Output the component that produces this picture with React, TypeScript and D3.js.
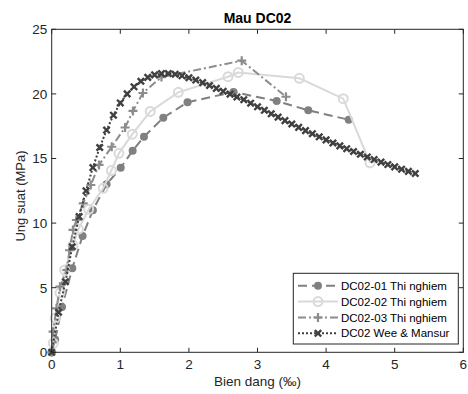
import React from "react";
import * as d3 from "d3";

const xTicks = [0, 1, 2, 3, 4, 5, 6];
const yTicks = [0, 5, 10, 15, 20, 25];

const dc01X = [0, 0.05, 0.15, 0.3, 0.45, 0.6, 0.8, 1.006, 1.18, 1.345, 1.627, 1.98, 2.65, 3.28, 3.74, 4.33];
const dc01Y = [0, 1.0, 3.5, 6.5, 9.0, 11.0, 13.0, 14.29, 15.6, 16.69, 18.16, 19.35, 20.15, 19.45, 18.73, 18.0];

const dc02X = [0.023, 0.05, 0.12, 0.19, 0.31, 0.39, 0.54, 0.75, 0.87, 0.98, 1.175, 1.437, 1.845, 2.57, 2.72, 3.61, 4.25, 4.64];
const dc02Y = [0.7, 2.65, 4.6, 6.37, 8.3, 9.54, 11.07, 12.69, 14.07, 15.4, 16.88, 18.64, 20.12, 21.33, 21.66, 21.21, 19.63, 14.67];

const dc03X = [0, 0.02, 0.07, 0.12, 0.22, 0.26, 0.31, 0.36, 0.46, 0.57, 0.69, 0.875, 1.07, 1.185, 1.33, 1.6, 2.77, 3.415];
const dc03Y = [0, 1.6, 3.4, 5.08, 6.37, 7.9, 9.47, 10.24, 11.53, 12.95, 14.5, 15.91, 17.4, 18.68, 20.07, 21.3, 22.57, 19.78];

const weeX = [0, 0.1, 0.2, 0.3, 0.4, 0.5, 0.6, 0.7, 0.8, 0.9, 1.0, 1.1, 1.2, 1.3, 1.4, 1.5, 1.6, 1.7, 1.8, 1.9, 2.0, 2.1, 2.2, 2.3, 2.4, 2.5, 2.6, 2.7, 2.8, 2.9, 3.0, 3.1, 3.2, 3.3, 3.4, 3.5, 3.6, 3.7, 3.8, 3.9, 4.0, 4.1, 4.2, 4.3, 4.4, 4.5, 4.6, 4.7, 4.8, 4.9, 5.0, 5.1, 5.2, 5.3];
const weeY = [0, 3.1, 5.46, 8.17, 10.5, 12.5, 14.3, 15.85, 17.2, 18.35, 19.3, 20.0, 20.55, 20.98, 21.28, 21.47, 21.57, 21.58, 21.52, 21.4, 21.25, 21.07, 20.87, 20.65, 20.43, 20.2, 19.98, 19.76, 19.55, 19.28, 19.0, 18.73, 18.46, 18.2, 17.93, 17.67, 17.41, 17.16, 16.92, 16.68, 16.44, 16.2, 15.98, 15.76, 15.54, 15.33, 15.12, 14.92, 14.72, 14.53, 14.35, 14.17, 14.0, 13.84];

const legendLabels = ["DC02-01 Thi nghiem", "DC02-02 Thi nghiem", "DC02-03 Thi nghiem", "DC02 Wee & Mansur"];

const W = 468, H = 394;
const L = 51.7, R = 463.3, T = 29.3, B = 352.3;
const font = "Liberation Sans, Arial, sans-serif";

type Style = { color: string; dash: string; marker: string; width: number };
const styles: Style[] = [
  { color: "#808080", dash: "9,5", marker: "dot", width: 2 },
  { color: "#d9d9d9", dash: "", marker: "circle", width: 2 },
  { color: "#8c8c8c", dash: "8,3,2,3", marker: "plus", width: 2 },
  { color: "#404040", dash: "2,2", marker: "x", width: 2 },
];

function Marker({ kind, x, y, color }: { kind: string; x: number; y: number; color: string }) {
  if (kind === "dot") return <circle cx={x} cy={y} r={4} fill={color} />;
  if (kind === "circle") return <circle cx={x} cy={y} r={4.5} fill="none" stroke={color} strokeWidth={2} />;
  if (kind === "plus") {
    const s = 4.5;
    return <path d={`M${x - s},${y}H${x + s}M${x},${y - s}V${y + s}`} stroke={color} strokeWidth={2.2} />;
  }
  const s = 3.2;
  return <path d={`M${x - s},${y - s}L${x + s},${y + s}M${x - s},${y + s}L${x + s},${y - s}`} stroke={color} strokeWidth={2.4} />;
}

export default function App() {
  const x = d3.scaleLinear().domain([0, 6]).range([L, R]);
  const y = d3.scaleLinear().domain([0, 25]).range([B, T]);
  const series = [
    [dc01X, dc01Y],
    [dc02X, dc02Y],
    [dc03X, dc03Y],
    [weeX, weeY],
  ].map(([xs, ys]) => xs.map((v, i) => [v, ys[i]] as [number, number]));
  const line = d3.line<[number, number]>().x((d) => x(d[0])).y((d) => y(d[1]));

  const legX = 293.3, legY = 273.3, legW = 165, legH = 70.7;
  const rowY = [285.7, 301.6, 317.5, 333.3];

  return (
    <svg width={W} height={H} style={{ position: "absolute", left: 0, top: 0, background: "#fff" }} fontFamily={font}>
      <rect x={0} y={0} width={W} height={H} fill="#fff" />
      {series.map((pts, si) => (
        <g key={si}>
          <path d={line(pts) || ""} fill="none" stroke={styles[si].color} strokeWidth={styles[si].width} strokeDasharray={styles[si].dash} />
          {pts.map((p, i) => (
            <Marker key={i} kind={styles[si].marker} x={x(p[0])} y={y(p[1])} color={styles[si].color} />
          ))}
        </g>
      ))}
      <rect x={L} y={T} width={R - L} height={B - T} fill="none" stroke="#262626" strokeWidth={1} />
      {xTicks.map((t) => (
        <g key={"x" + t}>
          <line x1={x(t)} x2={x(t)} y1={B} y2={B - 4.5} stroke="#262626" />
          <line x1={x(t)} x2={x(t)} y1={T} y2={T + 4.5} stroke="#262626" />
          <text x={x(t)} y={B + 17} fontSize={13.5} textAnchor="middle" fill="#262626">{t}</text>
        </g>
      ))}
      {yTicks.map((t) => (
        <g key={"y" + t}>
          <line x1={L} x2={L + 4.5} y1={y(t)} y2={y(t)} stroke="#262626" />
          <line x1={R} x2={R - 4.5} y1={y(t)} y2={y(t)} stroke="#262626" />
          <text x={L - 4.5} y={y(t) + 4.8} fontSize={13.5} textAnchor="end" fill="#262626">{t}</text>
        </g>
      ))}
      <text x={(L + R) / 2} y={22.7} fontSize={14} fontWeight="bold" textAnchor="middle" fill="#000">Mau DC02</text>
      <text x={(L + R) / 2} y={386} fontSize={13.5} textAnchor="middle" fill="#262626">Bien dang (‰)</text>
      <text transform={`translate(25,196) rotate(-90)`} fontSize={13} textAnchor="middle" fill="#262626">Ung suat (MPa)</text>
      <rect x={legX} y={legY} width={legW} height={legH} fill="#fff" stroke="#262626" strokeWidth={1} />
      {legendLabels.map((lab, i) => (
        <g key={lab}>
          <line x1={298} x2={338} y1={rowY[i]} y2={rowY[i]} stroke={styles[i].color} strokeWidth={styles[i].width} strokeDasharray={styles[i].dash} />
          <Marker kind={styles[i].marker} x={318} y={rowY[i]} color={styles[i].color} />
          <text x={341} y={rowY[i] + 4} fontSize={11.5} fill="#000">{lab}</text>
        </g>
      ))}
    </svg>
  );
}
